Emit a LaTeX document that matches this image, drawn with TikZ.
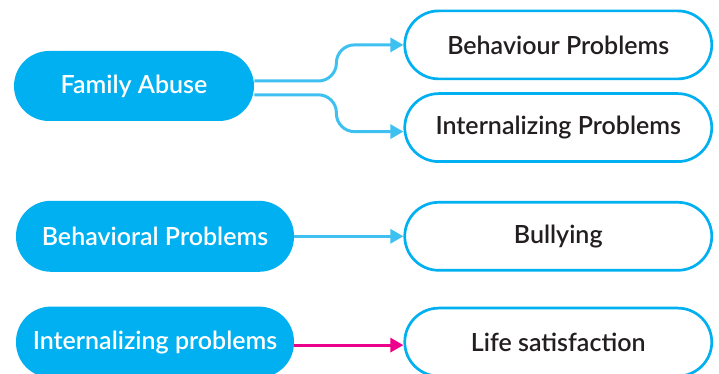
\documentclass[tikz,border=0pt]{standalone}
\usepackage{fontspec}
\setmainfont{Lato}[UprightFont={* Semibold}]
\usetikzlibrary{positioning, arrows.meta}
\definecolor{boxblue}{RGB}{0,176,240}
\definecolor{lineblue}{RGB}{62,193,240}
\definecolor{linkpink}{RGB}{236,0,140}
\definecolor{textgray}{RGB}{35,31,32}
\tikzset{cause node/.style={rectangle, rounded corners=17.5pt, fill=boxblue, text=white, minimum height=35.5pt, minimum width=139pt, inner sep=2pt, font=\fontsize{12.5}{15}\selectfont},
effect node/.style={rectangle, rounded corners=17pt, draw=boxblue, line width=1.35pt, fill=white, text=textgray, minimum width=153.5pt, minimum height=34pt, inner sep=2pt, font=\fontsize{12.5}{15}\selectfont},
link/.style={-{Triangle[length=6.5pt,width=7pt]}, line width=1.5pt, draw=lineblue, rounded corners=9pt},}

\begin{document}
\begin{tikzpicture}
        \useasboundingbox (0,0) rectangle (359.5pt,-187pt);
        % Causes
        \node[cause node, minimum width=120pt, minimum height=35pt] (abuse) at (67pt,-43pt) {Family Abuse};
        \node[cause node] [below=39.5pt of abuse.south west, anchor=north west, xshift=1pt] (behav) {Behavioral Problems};
        \node[cause node] [below=17pt of behav] (intern) {Internalizing problems};
        % Effects
        \node[effect node] [right=54.5pt of behav] (bully) {Bullying};
        \node[effect node] [right=54.5pt of intern] (life) {Life satisfaction};
        \node[effect node] [above=19pt of bully] (ip) {Internalizing Problems};
        \node[effect node] [above=6pt of ip] (bp) {Behaviour Problems};
        % Links
        \draw[link] ([yshift=2.5pt]abuse.east) -- ++(41pt,0) |- (bp.west);
        \draw[link] ([yshift=-4.4pt]abuse.east) -- ++(41pt,0) |- ([yshift=-2pt]ip.west);
        \draw[link] (behav.east) -- (behav.east -| bully.west);
        \draw[link, draw=linkpink] ([yshift=-1.5pt]intern.east) -- ([yshift=-1.5pt]intern.east -| life.west);
    \end{tikzpicture}
\end{document}
